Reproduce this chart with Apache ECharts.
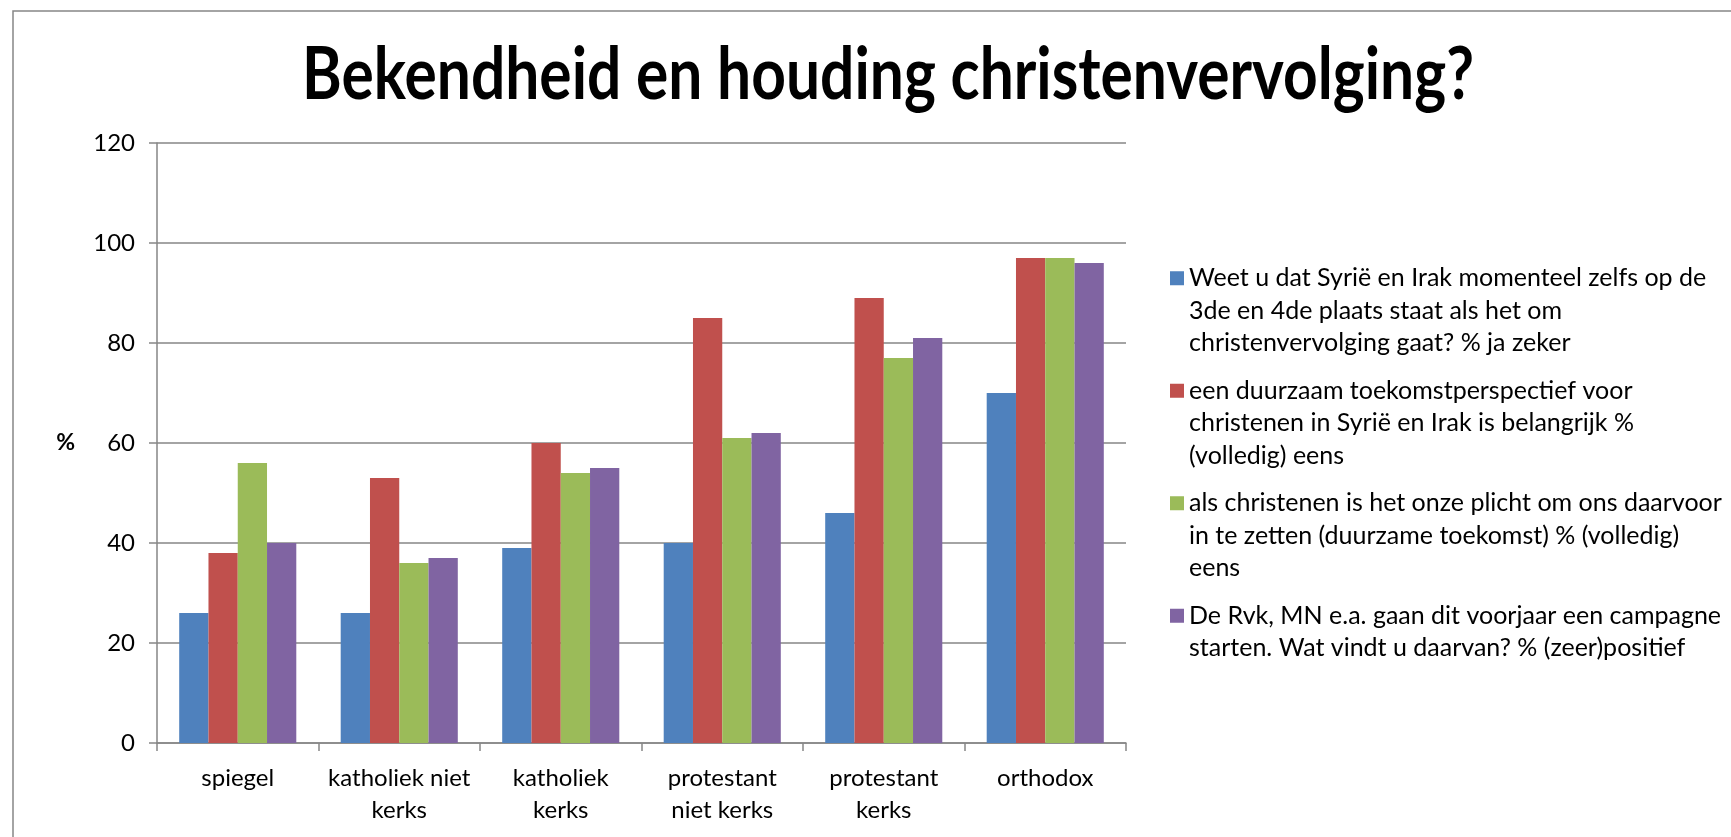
<!DOCTYPE html>
<html>
<head>
<meta charset="utf-8">
<title>Bekendheid en houding christenvervolging?</title>
<script src="https://cdn.jsdelivr.net/npm/echarts@6/dist/echarts.min.js"></script>
<style>
  html, body { margin: 0; padding: 0; background: #fff; }
  #main { width: 1731px; height: 837px; }
</style>
</head>
<body>
<div id="main"></div>
<script>
// categories (x axis)
var categories = ['spiegel', 'katholiek niet\nkerks', 'katholiek\nkerks', 'protestant\nniet kerks', 'protestant\nkerks', 'orthodox'];

// series values (%)
var weetU      = [26, 26, 39, 40, 46, 70];
var duurzaam   = [38, 53, 60, 85, 89, 97];
var plicht     = [56, 36, 54, 61, 77, 97];
var campagne   = [40, 37, 55, 62, 81, 96];

// legend texts, wrapped like in the picture
var seriesNames = [
  ['Weet u dat Syrië en Irak momenteel zelfs op de', '3de en 4de plaats staat als het om', 'christenvervolging gaat? % ja zeker'],
  ['een duurzaam toekomstperspectief voor', 'christenen in Syrië en Irak is belangrijk %', '(volledig) eens'],
  ['als christenen is het onze plicht om ons daarvoor', 'in te zetten (duurzame toekomst) % (volledig)', 'eens'],
  ['De Rvk, MN e.a. gaan dit voorjaar een campagne', 'starten. Wat vindt u daarvan? % (zeer)positief', '']
];

var yTicks = [0, 20, 40, 60, 80, 100, 120];

var colors = ['#4F81BD', '#C0504D', '#9BBB59', '#8064A2'];
var values = [weetU, duurzaam, plicht, campagne];
var FONT = 'Lato';
var gridColor = '#868686';

var names = seriesNames.map(function (l) { return l.join('\n'); });

// square at the first text line, box as tall as three lines
var legendIcon = 'path://M0,0L14,0L14,0.001L0,0.001Z M0,9L14,9L14,23L0,23Z M0,97L14,97L14,97.001L0,97.001Z';

var series = values.map(function (v, i) {
  return {
    name: names[i],
    type: 'bar',
    data: v,
    barGap: 0,
    barCategoryGap: '27.5%',
    itemStyle: { color: colors[i] }
  };
});

var myChart = echarts.init(document.getElementById('main'));
myChart.setOption({
  animation: false,
  color: colors,
  textStyle: { fontFamily: FONT },
  graphic: [{
    type: 'rect',
    shape: { x: 13, y: 11, width: 2000, height: 2000 },
    style: { fill: null, stroke: gridColor, lineWidth: 1.5 },
    silent: true
  }, {
    // title, squeezed a little to get the narrow look of the original
    type: 'text',
    x: 888,
    y: 76,
    scaleX: 0.84,
    silent: true,
    style: {
      text: 'Bekendheid en houding christenvervolging?',
      x: 0, y: 0,
      align: 'center',
      verticalAlign: 'middle',
      fontFamily: FONT,
      fontSize: 72,
      fontWeight: 'bold',
      fill: '#000'
    }
  }],
  legend: {
    orient: 'vertical',
    left: 1170,
    top: 262,
    padding: 0,
    itemWidth: 14,
    itemHeight: 97,
    itemGap: 15,
    icon: legendIcon,
    data: names,
    selectedMode: false,
    textStyle: { fontFamily: FONT, fontSize: 25, lineHeight: 32.5, color: '#000' }
  },
  grid: { left: 157, right: 605, top: 143, bottom: 94, containLabel: false },
  xAxis: {
    type: 'category',
    data: categories,
    axisLine: { lineStyle: { color: gridColor, width: 1.5 } },
    axisTick: { show: true, length: 8, interval: 0, alignWithLabel: false, lineStyle: { color: gridColor, width: 1.5 } },
    axisLabel: { interval: 0, margin: 19, fontFamily: FONT, fontSize: 24, lineHeight: 32, color: '#000' }
  },
  yAxis: {
    type: 'value',
    min: yTicks[0],
    max: yTicks[yTicks.length - 1],
    interval: yTicks[1] - yTicks[0],
    name: '%',
    nameLocation: 'middle',
    nameRotate: 0,
    nameGap: 82,
    nameTextStyle: { fontFamily: FONT, fontSize: 23, fontWeight: 'bold', color: '#000' },
    axisLine: { show: true, lineStyle: { color: gridColor, width: 1.5 } },
    axisTick: { show: true, length: 8, lineStyle: { color: gridColor, width: 1.5 } },
    splitLine: { show: true, lineStyle: { color: gridColor, width: 1.5 } },
    axisLabel: { margin: 22, fontFamily: FONT, fontSize: 24, color: '#000' }
  },
  series: series
});
</script>
</body>
</html>
